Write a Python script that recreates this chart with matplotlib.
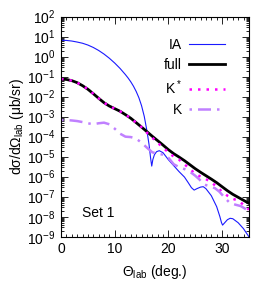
import matplotlib
matplotlib.use("Agg")
import matplotlib.pyplot as plt
import numpy as np
from matplotlib.ticker import LogLocator, MultipleLocator, NullFormatter

plt.rcParams['font.family'] = ['Liberation Sans', 'DejaVu Sans']
plt.rcParams['mathtext.fontset'] = 'custom'
plt.rcParams['mathtext.rm'] = 'Liberation Sans'
plt.rcParams['mathtext.it'] = 'Liberation Sans:italic'
plt.rcParams['mathtext.bf'] = 'Liberation Sans:bold'

# ---- data (log10 of cross section) ----
ia_theta = [0, 1, 2, 3, 4, 5, 6, 7, 8, 9, 10, 11, 12, 12.5, 13, 13.5, 14, 14.5, 15, 15.5,
            16, 16.4, 16.7, 16.9, 17.1, 17.4, 17.8, 18.3, 19, 20, 21, 22, 23, 23.7, 24.3,
            24.8, 25.3, 26, 26.5, 27, 28, 29, 29.6, 29.9, 30.1, 30.5, 31, 31.5, 32, 33, 34, 35]
ia_log10 = [0.82, 0.81, 0.78, 0.73, 0.67, 0.58, 0.46, 0.31, 0.13, -0.08, -0.32, -0.59, -0.9,
            -1.07, -1.26, -1.48, -1.74, -2.05, -2.45, -2.98, -3.7, -4.4, -5.1, -5.47, -5.15,
            -4.9, -4.75, -4.7, -4.8, -5.15, -5.45, -5.75, -6.02, -6.3, -6.55, -6.67, -6.6,
            -6.52, -6.5, -6.6, -6.95, -7.5, -8.0, -8.3, -8.42, -8.3, -8.15, -8.08, -8.1,
            -8.3, -8.6, -9.0]

full_theta = list(range(0, 36))
full_log10 = [-1.12, -1.14, -1.2, -1.3, -1.45, -1.63, -1.85, -2.08, -2.3, -2.47, -2.6, -2.73,
              -2.9, -3.08, -3.3, -3.52, -3.75, -3.98, -4.2, -4.42, -4.65, -4.85, -5.02, -5.2,
              -5.4, -5.6, -5.78, -5.95, -6.12, -6.3, -6.5, -6.7, -6.88, -7.03, -7.18, -7.33]

kstar_theta = list(range(0, 36))
kstar_log10 = [-1.12, -1.14, -1.2, -1.3, -1.45, -1.63, -1.85, -2.08, -2.3, -2.47, -2.6, -2.73,
               -2.9, -3.08, -3.3, -3.52, -3.8, -4.05, -4.3, -4.55, -4.78, -5.0, -5.15, -5.38,
               -5.62, -5.85, -6.0, -6.12, -6.28, -6.5, -6.75, -6.95, -7.1, -7.2, -7.4, -7.65]

k_theta = [0, 1, 2, 3, 4, 5, 6, 7, 8, 9, 10, 11, 12, 13, 14, 15, 16, 17, 18, 19, 20, 21, 22,
           23, 24, 25, 25.75, 26.5, 27, 28, 28.7, 29.5, 30.5, 31.4, 32.5, 33.5, 34.3, 35]
k_log10 = [-3.17, -3.17, -3.19, -3.22, -3.27, -3.33, -3.38, -3.33, -3.3, -3.38, -3.6, -3.85,
           -4.0, -4.02, -4.1, -4.3, -4.55, -4.78, -4.85, -4.9, -5.05, -5.38, -5.52, -5.62,
           -5.75, -5.95, -6.13, -6.35, -6.42, -6.5, -6.58, -6.75, -7.05, -7.3, -7.4, -7.47,
           -7.6, -7.75]

labels = ['IA', 'full', 'K$^*$', 'K']
x_ticks = [0, 10, 20, 30]

FS = 10

fig = plt.figure(figsize=(2.75, 2.97), dpi=100)
ax = fig.add_axes([0.222, 0.203, 0.683, 0.741])

ax.plot(ia_theta, 10.0 ** np.array(ia_log10), color='#1a1aff', lw=0.8, label=labels[0])
ax.plot(full_theta, 10.0 ** np.array(full_log10), color='black', lw=2.0, label=labels[1])
ax.plot(kstar_theta, 10.0 ** np.array(kstar_log10), color='#ff00ff', lw=1.8,
        linestyle=(0, (1.0, 2.4)), dash_capstyle='butt', label=labels[2])
ax.plot(k_theta, 10.0 ** np.array(k_log10), color='#c080ff', lw=1.8,
        linestyle=(0, (1.0, 2.4, 5.2, 2.4)), dash_capstyle='butt', label=labels[3])

ax.set_yscale('log')
ax.set_xlim(0, 35)
ax.set_ylim(1e-9, 1e2)
ax.set_xticks(x_ticks)
ax.xaxis.set_minor_locator(MultipleLocator(1))
ax.yaxis.set_major_locator(LogLocator(base=10, numticks=20))
ax.yaxis.set_minor_locator(LogLocator(base=10, subs=np.arange(2, 10), numticks=20))
ax.yaxis.set_minor_formatter(NullFormatter())

ax.tick_params(which='both', direction='in', top=True, right=True, labelsize=FS, width=0.6)
ax.tick_params(which='major', length=5, pad=4)
ax.tick_params(which='minor', length=2.5)
for s in ax.spines.values():
    s.set_linewidth(0.8)

ax.set_xlabel('\u0398$_{\\rm lab}$ (deg.)', fontsize=FS, labelpad=5)
ax.set_ylabel('d\u03c3/d\u03a9$_{\\rm lab}$ (\u03bcb/sr)', fontsize=FS, labelpad=1)

ax.text(3.9, 10 ** -7.8, 'Set 1', fontsize=FS, va='center', ha='left')

leg = ax.legend(loc='upper right', frameon=False, fontsize=FS, markerfirst=False,
                handlelength=2.6, handletextpad=0.55, labelspacing=0.45,
                bbox_to_anchor=(0.875, 0.905), borderaxespad=0.0, borderpad=0.0)

fig.savefig('out.png', dpi=100)
